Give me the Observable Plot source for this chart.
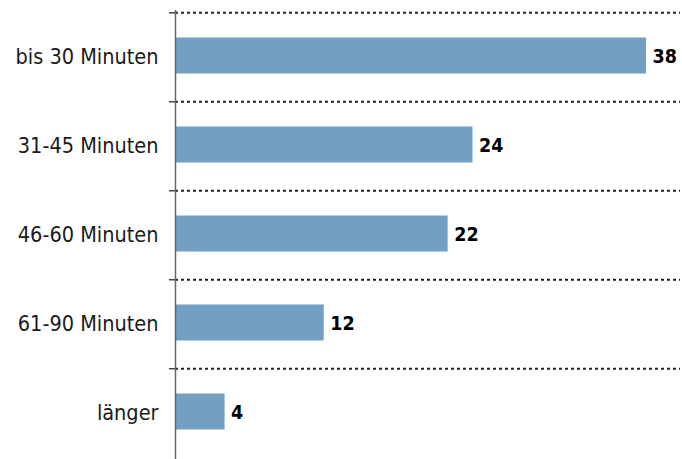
<!DOCTYPE html>
<html>
<head>
<meta charset="utf-8">
<script src="https://cdn.jsdelivr.net/npm/d3@7"></script>
<script src="https://cdn.jsdelivr.net/npm/@observablehq/plot@0.6"></script>
<style>
  html, body { margin: 0; padding: 0; background: #fff; }
  #chart svg { display: block; }
</style>
</head>
<body>
<div id="chart"></div>
<script>
const categories = ["bis 30 Minuten", "31-45 Minuten", "46-60 Minuten", "61-90 Minuten", "länger"];
const values = [38, 24, 22, 12, 4];

const data = categories.map((c, i) => ({category: c, value: values[i]}));

const lineShape = {
  draw(context, l) {
    context.moveTo(0, 0);
    context.lineTo(0, -l);
  }
};

const chart = Plot.plot({
  width: 682,
  height: 459,
  marginLeft: 175,
  marginRight: 36,
  marginTop: 10,
  marginBottom: 0,
  style: {fontFamily: "'DejaVu Sans Condensed', 'DejaVu Sans', sans-serif", background: "#fff"},
  x: {domain: [0, 38], axis: null},
  y: {domain: categories, paddingInner: 0.6, paddingOuter: 0.3, label: null},
  marks: [
    Plot.barX(data, {x: "value", y: "category", fill: "#729fc4", dy: -1.5}),
    Plot.ruleY(categories, {y: d => d, dy: -44.8, stroke: "#222", strokeWidth: 2, strokeDasharray: "3,3", insetRight: -34}),
    Plot.vector(categories, {x: () => 0, y: d => d, dy: -44.8, rotate: 270, length: 6, anchor: "start", shape: lineShape, stroke: "#444", strokeWidth: 1.5}),
    Plot.axisY({tickSize: 0, tickPadding: 17, fontSize: 21.5, color: "#1a1a1a", label: null}),
    Plot.ruleX([0], {stroke: "#666", strokeWidth: 1.5}),
    Plot.text(data, {x: "value", y: "category", text: d => String(d.value), dx: 6, dy: -0.5, textAnchor: "start", fontWeight: "bold", fontSize: 19.5, fill: "#000"})
  ]
});
document.getElementById("chart").appendChild(chart);
</script>
</body>
</html>
